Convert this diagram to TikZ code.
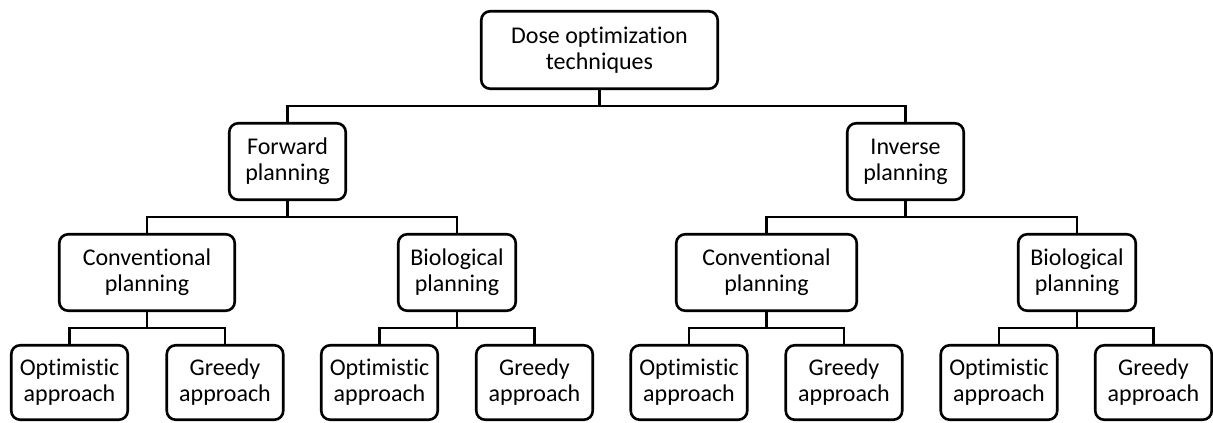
\documentclass[tikz,border=0pt]{standalone}
\usepackage{fontspec}
\setmainfont{Carlito}[RawFeature=-liga]
\begin{document}
\begin{tikzpicture}[x=1pt,y=-1pt,
  box/.style={draw=black, line width=2.6pt, rounded corners=9pt, inner sep=0pt,
    align=center, font=\fontsize{24}{26}\selectfont},
  topbox/.style={box, minimum width=236.5pt, minimum height=77.5pt},
  midbox/.style={box, minimum width=116.5pt, minimum height=76.5pt},
  leafbox/.style={box, minimum width=116.5pt, minimum height=74.5pt},
  link/.style={draw=black, line width=2.6pt, line join=miter}]
\useasboundingbox (0,0) rectangle (1213,423);

% root
\node[topbox] (root) at (599.5,50) {Dose optimization\\techniques};

% first level
\node[midbox] (fwd) at (287.5,161.5) {Forward\\planning};
\node[midbox] (inv) at (905.5,161.5) {Inverse\\planning};

% second level
\node[midbox, minimum width=175.5pt] (convL) at (147,272.5) {Conventional\\planning};
\node[midbox, minimum width=117.5pt] (bioL) at (457,272.5) {Biological\\planning};
\node[midbox, minimum width=180.5pt] (convR) at (766.5,272.5) {Conventional\\planning};
\node[midbox, minimum width=117.5pt] (bioR) at (1077,272.5) {Biological\\planning};

% leaves
\node[leafbox] (optLL) at (69.5,382.5) {Optimistic\\approach};
\node[leafbox] (grdLL) at (225,382.5) {Greedy\\approach};
\node[leafbox] (optLR) at (379.5,382.5) {Optimistic\\approach};
\node[leafbox] (grdLR) at (534.5,382.5) {Greedy\\approach};
\node[leafbox] (optRL) at (689,382.5) {Optimistic\\approach};
\node[leafbox] (grdRL) at (844,382.5) {Greedy\\approach};
\node[leafbox] (optRR) at (999,382.5) {Optimistic\\approach};
\node[leafbox] (grdRR) at (1153.5,382.5) {Greedy\\approach};

% elbow connectors: down to the bus, across, down to the child
\foreach \p/\c in {root/fwd, root/inv,
                   fwd/convL, fwd/bioL, inv/convR, inv/bioR,
                   convL/optLL, convL/grdLL, bioL/optLR, bioL/grdLR,
                   convR/optRL, convR/grdRL, bioR/optRR, bioR/grdRR}
  \draw[link] (\p.south) -- ++(0,16) -| (\c.north);
\end{tikzpicture}
\end{document}
